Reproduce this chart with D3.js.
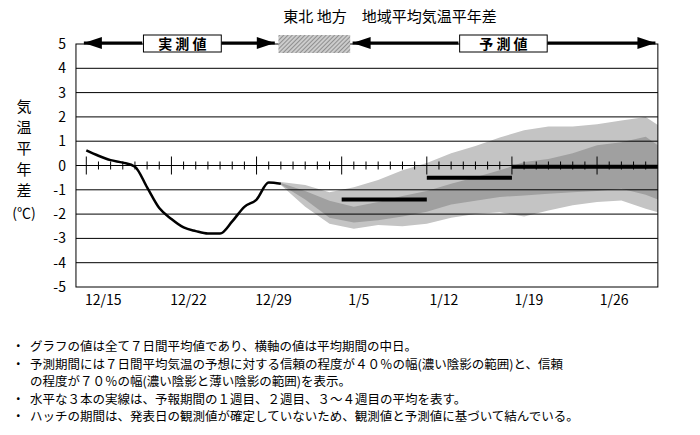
<!DOCTYPE html>
<html lang="ja">
<head>
<meta charset="UTF-8">
<script src="https://d3js.org/d3.v7.min.js"></script>
<style>
body{margin:0;background:#fff;}
text{font-family:"Noto Sans CJK JP",sans-serif;}
</style>
</head>
<body>
<script>
// day 0 = 12/15
const tickDays = [0, 7, 14, 21, 28, 35, 42];
const tickLabels = ["12/15", "12/22", "12/29", "1/5", "1/12", "1/19", "1/26"];
const yTicks = [5, 4, 3, 2, 1, 0, -1, -2, -3, -4, -5];

const obsDays = [0,1,2,3,4,5,6,7,8,9,10,11,12,13,14,15,16];
const obsVals = [0.62,0.4,0.22,0.12,-0.05,-0.9,-1.75,-2.2,-2.55,-2.7,-2.8,-2.8,-2.3,-1.7,-1.4,-0.7,-0.75];

const bandDays = [16,18,20,22,24,26,28,30,32,34,36,38,40,42,44,46,47];
const outerHi = [-0.68,-0.8,-1.1,-0.9,-0.6,-0.2,0.1,0.5,0.8,1.15,1.45,1.6,1.6,1.7,1.85,2.0,1.67];
const outerLo = [-0.8,-1.7,-2.4,-2.6,-2.45,-2.5,-2.4,-2.15,-2.0,-1.92,-2.1,-1.85,-1.64,-1.5,-1.44,-1.78,-1.92];
const innerHi = [-0.72,-1.05,-1.45,-1.7,-1.5,-1.25,-1.05,-0.75,-0.48,-0.2,0.14,0.27,0.5,0.83,0.96,1.18,0.83];
const innerLo = [-0.78,-1.4,-2.15,-2.35,-2.25,-2.1,-1.9,-1.6,-1.45,-1.3,-1.23,-1.16,-1.1,-1.05,-0.96,-1.2,-1.4];

const weekStart = [21, 28, 35];
const weekEnd = [28, 35, 47];
const weekVals = [-1.4, -0.5, -0.05];

const notes = [
  ["・", "グラフの値は全て７日間平均値であり、横軸の値は平均期間の中日。"],
  ["・", "予測期間には７日間平均気温の予想に対する信頼の程度が４０％の幅(濃い陰影の範囲)と、信頼"],
  ["", "の程度が７０％の幅(濃い陰影と薄い陰影の範囲)を表示。"],
  ["・", "水平な３本の実線は、予報期間の１週目、２週目、３～４週目の平均を表す。"],
  ["・", "ハッチの期間は、発表日の観測値が確定していないため、観測値と予測値に基づいて結んでいる。"]
];

const W = 700, H = 435;
const x = d3.scaleLinear().domain([0, 46]).range([86.3, 645.7]);
const y = d3.scaleLinear().domain([-5, 5]).range([287, 44]);
const left = x(-0.85), right = x(47);

const svg = d3.select("body").append("svg").attr("width", W).attr("height", H);

svg.append("defs").append("pattern")
  .attr("id", "hatch").attr("width", 3).attr("height", 3)
  .attr("patternUnits", "userSpaceOnUse").attr("patternTransform", "rotate(45)")
  .call(p => {
    p.append("rect").attr("width", 3).attr("height", 3).attr("fill", "#ccc");
    p.append("line").attr("x1", 0).attr("y1", 0).attr("x2", 0).attr("y2", 3).attr("stroke", "#666").attr("stroke-width", 1.2);
  });

// bands
const band = (hi, lo) => d3.area().x((d, i) => x(bandDays[i])).y0((d, i) => y(lo[i])).y1((d, i) => y(hi[i]));
svg.append("path").datum(bandDays).attr("d", band(outerHi, outerLo)).attr("fill", "#c4c4c4");
svg.append("path").datum(bandDays).attr("d", band(innerHi, innerLo)).attr("fill", "#a0a0a0");

// grid
svg.append("g").selectAll("line").data(yTicks.filter(v => v !== 0 && v !== 5 && v !== -5)).join("line")
  .attr("x1", left).attr("x2", right).attr("y1", d => y(d)).attr("y2", d => y(d))
  .attr("stroke", "#000").attr("stroke-width", 1);
svg.append("rect").attr("x", left).attr("y", y(5)).attr("width", right - left).attr("height", y(-5) - y(5))
  .attr("fill", "none").attr("stroke", "#000");

// zero axis with daily ticks
svg.append("line").attr("x1", left).attr("x2", right).attr("y1", y(0)).attr("y2", y(0)).attr("stroke", "#000");
svg.append("g").selectAll("line").data(d3.range(0, 47)).join("line")
  .attr("x1", d => x(d)).attr("x2", d => x(d))
  .attr("y1", d => y(0) - (d % 7 === 0 ? 9 : 4)).attr("y2", d => y(0) + (d % 7 === 0 ? 9 : 4))
  .attr("stroke", "#000");

// y labels
svg.append("g").selectAll("text").data(yTicks).join("text")
  .attr("x", 66).attr("y", d => y(d) + 5).attr("text-anchor", "end").attr("font-size", 14).text(d => d);

// x labels
svg.append("g").selectAll("text").data(tickDays).join("text")
  .attr("x", d => x(d) + 17).attr("y", 305).attr("text-anchor", "middle").attr("font-size", 14)
  .text((d, i) => tickLabels[i]);

// weekly means
svg.append("g").selectAll("line").data(weekVals).join("line")
  .attr("x1", (d, i) => x(weekStart[i])).attr("x2", (d, i) => Math.min(x(weekEnd[i]), right))
  .attr("y1", d => y(d)).attr("y2", d => y(d)).attr("stroke", "#000").attr("stroke-width", 4);

// observed
svg.append("path").datum(obsVals)
  .attr("d", d3.line().x((d, i) => x(obsDays[i])).y(d => y(d)).curve(d3.curveMonotoneX))
  .attr("fill", "none").attr("stroke", "#000").attr("stroke-width", 2.5);

// top header
const ay = 43;
function arrow(x1, x2, dir) {
  const tip = dir > 0 ? x2 : x1;
  svg.append("line").attr("x1", x1).attr("x2", x2).attr("y1", ay).attr("y2", ay).attr("stroke", "#000").attr("stroke-width", 3);
  svg.append("path").attr("d", `M${tip},${ay}L${tip - dir * 18},${ay - 6}L${tip - dir * 18},${ay + 6}Z`).attr("fill", "#000");
}
arrow(x(-0.2), x(4.6), -1);
arrow(x(11.1), x(15.5), 1);
arrow(x(21.9), x(30.6), -1);
arrow(x(37.9), x(46.8), 1);
svg.append("rect").attr("x", x(15.8)).attr("y", 35).attr("width", x(21.7) - x(15.8)).attr("height", 18).attr("fill", "url(#hatch)");
[["実 測 値", 4.7, 11.1], ["予 測 値", 30.7, 37.9]].forEach(([t, a, b]) => {
  svg.append("rect").attr("x", x(a)).attr("y", 35).attr("width", x(b) - x(a)).attr("height", 17)
    .attr("fill", "#fff").attr("stroke", "#000");
  svg.append("text").attr("x", (x(a) + x(b)) / 2).attr("y", 49).attr("text-anchor", "middle")
    .attr("font-size", 14).attr("font-weight", "bold").text(t);
});

svg.append("text").attr("x", 390).attr("y", 22).attr("text-anchor", "middle").attr("font-size", 15)
  .text("東北 地方　地域平均気温平年差");

// vertical y title
svg.append("g").selectAll("text").data(["気", "温", "平", "年", "差"]).join("text")
  .attr("x", 24).attr("y", (d, i) => 112 + i * 21).attr("text-anchor", "middle").attr("font-size", 15).text(d => d);
svg.append("text").attr("x", 24).attr("y", 218).attr("text-anchor", "middle").attr("font-size", 14).text("(℃)");

// notes
notes.forEach(([b, t], i) => {
  svg.append("text").attr("x", 12).attr("y", 351 + i * 17.5).attr("font-size", 12.5).text(b);
  svg.append("text").attr("x", 30).attr("y", 351 + i * 17.5).attr("font-size", 12.5).text(t);
});
</script>
</body>
</html>
